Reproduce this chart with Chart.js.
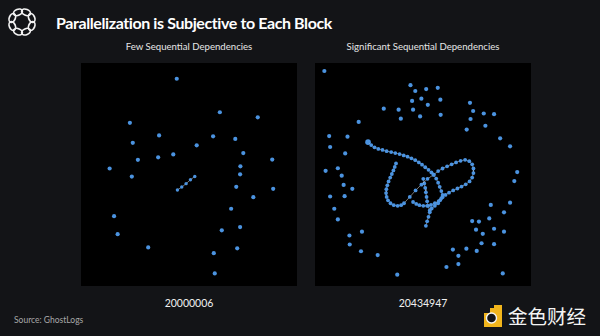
<!DOCTYPE html>
<html>
<head>
<meta charset="utf-8">
<script src="https://cdn.jsdelivr.net/npm/chart.js@4.4.1/dist/chart.umd.min.js"></script>
<style>
  html,body{margin:0;padding:0;background:#131417;}
  body{width:600px;height:336px;position:relative;overflow:hidden;font-family:Lato,"Open Sans",sans-serif;}
  .abs{position:absolute;}
  #title{left:56px;top:13px;font-size:16px;font-weight:700;color:#fff;white-space:nowrap;letter-spacing:-0.4px;}
  .sub{font-size:9.6px;color:#e6e6e6;width:224px;text-align:center;top:41px;white-space:nowrap;}
  .blk{font-size:10.5px;color:#f0f0f0;width:224px;text-align:center;top:297px;}
  #src{left:14px;top:315px;font-size:8.5px;color:#a8a8a8;}
  #wm{left:508px;top:301px;font-size:19.5px;color:#f4f4f4;font-family:"Noto Sans CJK SC";}
  canvas{position:absolute;}
</style>
</head>
<body>
<svg class="abs" style="left:5px;top:5px" width="34" height="34" viewBox="0 0 34 34">
  <g fill="none" stroke="#f2f2f2" stroke-width="1.7" id="knot"></g>
</svg>
<div id="title" class="abs">Parallelization is Subjective to Each Block</div>
<div id="sub0" class="abs sub" style="left:77px"></div>
<div id="sub1" class="abs sub" style="left:311px"></div>
<canvas id="c0" width="224" height="231" style="left:77px;top:59px"></canvas>
<canvas id="c1" width="224" height="231" style="left:311px;top:59px"></canvas>
<div id="blk0" class="abs blk" style="left:77px"></div>
<div id="blk1" class="abs blk" style="left:311px"></div>
<div id="src" class="abs">Source: GhostLogs</div>
<svg class="abs" style="left:482px;top:304px" width="22" height="24" viewBox="0 0 22 24">
  <path d="M2 9 L8 9 L8 4 L12 4 L12 1 L20 1 L20 23 L2 23 Z" fill="#f1b51c"/>
  <circle cx="9.5" cy="14" r="5" fill="#131417" stroke="#f4f4f4" stroke-width="1.4"/>
</svg>
<div id="wm" class="abs">金色财经</div>
<script>
// ---- data (arbitrary panel units: x 0..224, y 0..231, y up) ----
const panelTitles = ["Few Sequential Dependencies", "Significant Sequential Dependencies"];
const blockNumbers = ["20000006", "20434947"];

const leftScatter = [
  [99.3,214.7],[144,180],[183.3,174.7],[50.7,169],[81,156],[53.7,148.3],[137,155],[160,152.3],
  [120,145.7],[95.7,136.3],[80,133.3],[59,130.7],[168.3,137.7],[198.3,131],[29.7,121.7],[165.3,124],
  [52.7,113.3],[165,115.7],[161,102.7],[199.3,100.7],[178.7,92],[155.7,80],[34.3,72.3],[38,53.7],
  [165,61],[146,57.7],[69.7,40],[162,39],[137.7,34],[138.7,13]
];
const leftChain = [[118,113.5],[113.5,110],[109,106],[104.5,102.5],[100,99.5]];

const rightScatter = [
  [9.7,222.7],[99,208],[104,202],[115.3,204],[127.3,205.3],[100.7,191.7],[110.3,194],[130,193],
  [71.3,183.7],[86.7,182.7],[101.7,182.7],[117,187.7],[89,173.3],[109,175.7],[130.3,177.3],
  [160.7,189.7],[164,181.3],[175,178.7],[185.7,178],[161.3,173],[176.7,166],[157.3,162],[192,153],[202.3,144.7],
  [45.3,170],[14.7,155.3],[33.7,154.7],[15.7,144],[31.3,137.3],[11,119.3],[23.7,122],[27.7,114.3],
  [29.7,104.7],[38.7,100.7],[15.7,92.7],[30.7,93],[20,80],[23.7,69],[48.7,56.3],[35.7,52.3],
  [36,43],[47.7,36],[65,32],[85.3,11.7],
  [209.7,118],[206.7,108.7],[202.3,86.3],[182.3,84],[196,76.3],[180.7,70],[163,67.3],[170,66.7],
  [167,58.3],[185.7,59.3],[196,56.3],[174,54],[172.7,44.3],[185.7,43.3],[143,37.7],[157,38.7],
  [167.7,36.3],[148.7,31.3],[148.7,22.7],[136.3,19.7],[194.7,13]
];
const rightCurveA = [
  [55,149],[58.3,146],[61.7,143.7],[65.7,142],[70,141],[74.3,139.7],[79,138.7],[83.3,137.7],
  [87.7,136.7],[92,135.3],[96,134],[100,132.3],[104,130.3],[107.7,128],[111,125.7],[114.3,123],
  [117.7,120.3],[120.7,117.7],[123,115.3],[127.7,119],[132.3,121.7],[137,124],[141.7,126],[146.3,128],
  [151,129.7],[155.7,130.7],[160,129.3],[163,126],[164.3,121.7],[164.3,117],[163,112.3],[160.3,108.3],
  [156.3,105.3],[152,103],[147.7,101],[143.3,99],[139,96.7],[135.3,94.3],[132.3,92],[130,89],
  [127.7,85.7],[124.3,83],[121,80.3],[119,76.3],[117.7,71.7],[116.3,67],[115,62.3]
];
const rightCurveB = [
  [84,127],[82.7,123.3],[81.3,119.7],[79.7,116],[78,112.3],[76.3,108.3],[75,104.3],[74,100.3],
  [73.7,96.3],[74.3,92.3],[75.7,88.7],[78.3,85.7],[81.7,83.7],[85.7,83],[89.3,83.7],[92.3,85.7],
  [98.3,92.3],[104.3,99],[110.3,105],[116.7,111],[123,115.3]
];
const rightCurveC = [
  [101.7,87],[105,85],[108.3,83.7],[112.3,83],[116.3,83],[120.3,84],[124.3,85.7],[128.3,88],
  [131,91],[132.3,94.3],[131,98.3],[129.3,102.7],[127.7,107],[125.7,111.3],[123,115.3]
];
const rightCurveD = [
  [112.3,111],[113.3,106.3],[114.3,101.7],[115,97],[115.7,92.3],[116.3,87.7],[117.3,83],[119,78.3]
];

// ---- rendering ----
const DOT = '#4b93e0';
const toXY = a => a.map(p => ({x:p[0], y:p[1]}));

const bgPlugin = {
  id:'panelBg',
  beforeDraw(chart){
    const {ctx, chartArea:a} = chart;
    ctx.save(); ctx.fillStyle = '#000'; ctx.fillRect(a.left, a.top, a.right-a.left, a.bottom-a.top); ctx.restore();
  }
};

function scatterSet(arr, r){
  return {data: toXY(arr), showLine:false, pointRadius:r, pointBackgroundColor:DOT, pointBorderWidth:0, pointHoverRadius:r};
}
function chainSet(arr, r){
  return {data: toXY(arr), showLine:true, borderColor:'rgba(225,225,225,0.75)', borderWidth:0.7,
          pointRadius:r, pointBackgroundColor:DOT, pointBorderWidth:0, tension:0};
}

function makePanel(id, datasets){
  new Chart(document.getElementById(id), {
    type:'scatter',
    data:{datasets},
    options:{
      responsive:false, animation:false, events:[],
      layout:{padding:0},
      clip:false,
      scales:{
        x:{type:'linear', min:0, max:224, display:false},
        y:{type:'linear', min:0, max:231, display:false}
      },
      plugins:{legend:{display:false}, tooltip:{enabled:false}, title:{display:false}}
    },
    plugins:[bgPlugin]
  });
}

makePanel('c0', [scatterSet(leftScatter, 2.1), chainSet(leftChain, 1.7)]);
const firstPt = {data: toXY([rightCurveA[0]]), showLine:false, pointRadius:2.8, pointBackgroundColor:DOT, pointBorderWidth:0};
makePanel('c1', [
  scatterSet(rightScatter, 2.1),
  chainSet(rightCurveB, 1.9), chainSet(rightCurveC, 1.9), chainSet(rightCurveD, 1.9), chainSet(rightCurveA, 1.9),
  firstPt
]);

document.getElementById('sub0').textContent = panelTitles[0];
document.getElementById('sub1').textContent = panelTitles[1];
document.getElementById('blk0').textContent = blockNumbers[0];
document.getElementById('blk1').textContent = blockNumbers[1];

// logo knot
const g = document.getElementById('knot');
for (let i=0;i<8;i++){
  const e = document.createElementNS('http://www.w3.org/2000/svg','ellipse');
  e.setAttribute('cx', 17); e.setAttribute('cy', 6.5);
  e.setAttribute('rx', 4.6); e.setAttribute('ry', 3);
  e.setAttribute('transform', `rotate(${i*45+22.5} 17 17)`);
  g.appendChild(e);
}
</script>
</body>
</html>
